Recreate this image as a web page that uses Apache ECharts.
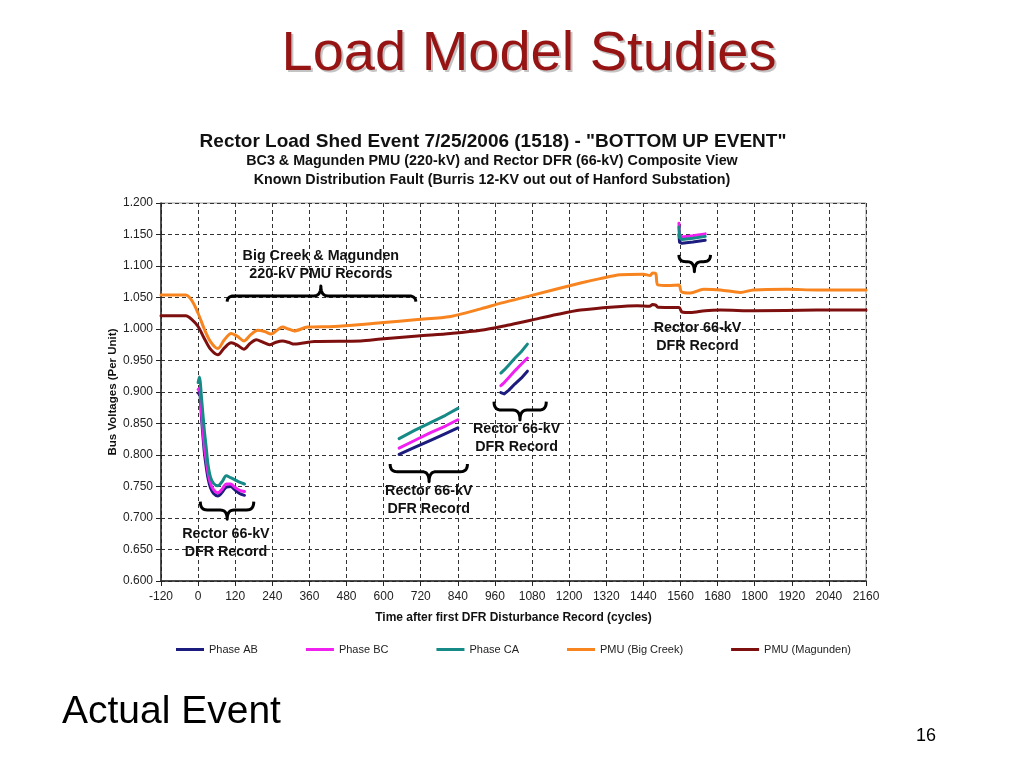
<!DOCTYPE html>
<html>
<head>
<meta charset="utf-8">
<script src="https://cdn.jsdelivr.net/npm/echarts@6/dist/echarts.min.js"></script>
<style>
html,body{margin:0;padding:0;background:#fff;}
#chart{width:1024px;height:768px;}
</style>
</head>
<body>
<div id="chart"></div>
<script>
// ---------- DATA ----------
const xTicks = [-120, 0, 120, 240, 360, 480, 600, 720, 840, 960, 1080, 1200, 1320, 1440, 1560, 1680, 1800, 1920, 2040, 2160];

// PMU Big Creek (orange)
const bigCreekT = [-120, -40, -20, 0, 20, 40, 64, 85, 107, 128, 148, 170, 193, 215, 236, 255, 273, 292, 311, 354, 440, 548, 591, 710, 817, 914, 979, 1076, 1237, 1300, 1366, 1440, 1462, 1470, 1480, 1487, 1520, 1555, 1563, 1592, 1635, 1689, 1754, 1796, 1905, 2000, 2160];
const bigCreekV = [1.054, 1.054, 1.045, 1.025, 1.000, 0.980, 0.969, 0.983, 0.993, 0.988, 0.981, 0.991, 0.998, 0.996, 0.992, 0.998, 1.003, 1.000, 0.997, 1.003, 1.004, 1.008, 1.010, 1.015, 1.020, 1.032, 1.041, 1.053, 1.073, 1.080, 1.086, 1.087, 1.085, 1.089, 1.088, 1.070, 1.069, 1.070, 1.059, 1.057, 1.063, 1.062, 1.058, 1.062, 1.063, 1.062, 1.062];

// PMU Magunden (dark red)
const magundenT = [-120, -40, -20, 0, 20, 40, 64, 85, 107, 128, 148, 168, 188, 210, 231, 252, 273, 292, 311, 376, 526, 591, 710, 817, 914, 1000, 1076, 1160, 1237, 1344, 1420, 1460, 1470, 1480, 1487, 1555, 1565, 1592, 1640, 1689, 1800, 2000, 2160];
const magundenV = [1.021, 1.021, 1.015, 1.004, 0.985, 0.968, 0.959, 0.970, 0.978, 0.974, 0.968, 0.977, 0.983, 0.979, 0.975, 0.979, 0.981, 0.979, 0.976, 0.980, 0.981, 0.984, 0.989, 0.993, 0.998, 1.006, 1.014, 1.023, 1.030, 1.035, 1.037, 1.036, 1.039, 1.038, 1.0345, 1.034, 1.027, 1.026, 1.029, 1.030, 1.029, 1.030, 1.030];

// Rector 66-kV DFR records (4 records)
const rec1T = [0, 4, 12, 20, 26, 32, 40, 50, 64, 78, 91, 105, 118, 134, 150];
const rec1AB = [0.898, 0.900, 0.852, 0.805, 0.782, 0.763, 0.748, 0.739, 0.735, 0.741, 0.749, 0.750, 0.745, 0.739, 0.736];
const rec1BC = [0.904, 0.906, 0.860, 0.815, 0.792, 0.772, 0.755, 0.745, 0.740, 0.746, 0.754, 0.754, 0.749, 0.744, 0.742];
const rec1CA = [0.915, 0.924, 0.885, 0.840, 0.813, 0.785, 0.765, 0.755, 0.751, 0.758, 0.767, 0.764, 0.761, 0.757, 0.754];

const rec2T = [650, 700, 750, 800, 840];
const rec2AB = [0.801, 0.812, 0.823, 0.834, 0.843];
const rec2BC = [0.811, 0.823, 0.835, 0.846, 0.856];
const rec2CA = [0.826, 0.839, 0.851, 0.863, 0.874];

const rec3T = [979, 990, 1005, 1025, 1045, 1065];
const rec3AB = [0.899, 0.897, 0.903, 0.913, 0.922, 0.933];
const rec3BC = [0.910, 0.915, 0.923, 0.934, 0.944, 0.954];
const rec3CA = [0.930, 0.935, 0.943, 0.954, 0.964, 0.976];

const rec4T = [1555, 1557, 1565, 1600, 1640];
const rec4AB = [1.150, 1.138, 1.136, 1.138, 1.141];
const rec4BC = [1.168, 1.150, 1.146, 1.148, 1.151];
const rec4CA = [1.162, 1.145, 1.142, 1.144, 1.147];

const seriesNames = ['Phase AB', 'Phase BC', 'Phase CA', 'PMU (Big Creek)', 'PMU (Magunden)'];

// ---------- BUILD ----------
const colors = {
  'Phase AB': '#1c1c7e',
  'Phase BC': '#f020f0',
  'Phase CA': '#168a86',
  'PMU (Big Creek)': '#f7841f',
  'PMU (Magunden)': '#7e0f0f'
};
function pairs(t, v) { return t.map((x, i) => [x, v[i]]); }
function lineSeries(name, data, w, smooth) {
  return {
    name: name, type: 'line', data: data, showSymbol: false, symbol: 'none',
    lineStyle: { color: colors[name], width: w, join: 'round', cap: 'round' }, itemStyle: { color: colors[name] },
    smooth: smooth, animation: false, emphasis: { disabled: true }
  };
}
const records = [
  [rec1T, rec1AB, rec1BC, rec1CA, 0.3],
  [rec2T, rec2AB, rec2BC, rec2CA, false],
  [rec3T, rec3AB, rec3BC, rec3CA, false],
  [rec4T, rec4AB, rec4BC, rec4CA, false]
];
const series = [];
records.forEach(r => {
  series.push(lineSeries('Phase AB', pairs(r[0], r[1]), 3, r[4]));
  series.push(lineSeries('Phase BC', pairs(r[0], r[2]), 3, r[4]));
  series.push(lineSeries('Phase CA', pairs(r[0], r[3]), 3, r[4]));
});
series.push(lineSeries('PMU (Big Creek)', pairs(bigCreekT, bigCreekV), 3, 0.3));
series.push(lineSeries('PMU (Magunden)', pairs(magundenT, magundenV), 3, 0.3));

const chart = echarts.init(document.getElementById('chart'), null, { renderer: 'canvas' });
const FONT = 'Liberation Sans, Arial, sans-serif';
const option = {
  backgroundColor: '#ffffff',
  animation: false,
  textStyle: { fontFamily: FONT },
  grid: { left: 161, right: 158, top: 203, bottom: 187, show: true, borderColor: '#9a9a9a', borderWidth: 1, containLabel: false },
  xAxis: {
    type: 'value', min: -120, max: 2160, interval: 120,
    name: 'Time after first DFR Disturbance Record (cycles)', nameLocation: 'middle', nameGap: 31,
    nameTextStyle: { fontFamily: FONT, fontWeight: 'bold', fontSize: 12, color: '#111' },
    axisLine: { onZero: false, lineStyle: { color: '#222', width: 1.5 } },
    axisTick: { show: true, length: 5, lineStyle: { color: '#222' } },
    axisLabel: { fontFamily: FONT, fontSize: 12, color: '#222', margin: 10, formatter: v => String(v), showMinLabel: true, showMaxLabel: true },
    splitLine: { show: true, lineStyle: { color: '#333', type: [4, 3], width: 1 } }
  },
  yAxis: {
    type: 'value', min: 0.6, max: 1.2, interval: 0.05,
    name: 'Bus Voltages (Per Unit)', nameLocation: 'middle', nameGap: 42, nameRotate: 90, nameMoveOverlap: false,
    nameTextStyle: { fontFamily: FONT, fontWeight: 'bold', fontSize: 11.5, color: '#111' },
    axisLine: { show: true, onZero: false, lineStyle: { color: '#222', width: 1.5 } },
    axisTick: { show: true, length: 5, lineStyle: { color: '#222' } },
    axisLabel: { fontFamily: FONT, fontSize: 12, color: '#222', margin: 8, formatter: v => v.toFixed(3) },
    splitLine: { show: true, lineStyle: { color: '#333', type: [4, 3], width: 1 } }
  },
  legend: {
    data: seriesNames, left: 171, top: 639, itemGap: 48, itemWidth: 28, itemHeight: 3, icon: 'rect',
    textStyle: { fontFamily: FONT, fontSize: 11, color: '#222' }, selectedMode: false
  },
  series: series
};
chart.setOption(option);

// ---------- ANNOTATIONS (positioned in data coordinates) ----------
const px = (c, v) => chart.convertToPixel({ xAxisIndex: 0, yAxisIndex: 0 }, [c, v]);
// brace: x1, x2 (cycles), yEnd, yBar, tipX, yTip (volts)
const braces = [
  [94, 704, 1.0433, 1.0524, 397, 1.0683],
  [7, 180, 0.726, 0.7127, 94, 0.698],
  [621, 871, 0.7857, 0.7735, 747, 0.7576],
  [957, 1126, 0.8846, 0.8714, 1041, 0.8556],
  [1555, 1657, 1.1175, 1.1068, 1605, 1.0910]
];
const labels = [
  ['Big Creek & Magunden\n220-kV PMU Records', 397, 1.1008],
  ['Rector 66-kV\nDFR Record', 90, 0.6603],
  ['Rector 66-kV\nDFR Record', 746, 0.7286],
  ['Rector 66-kV\nDFR Record', 1030, 0.827],
  ['Rector 66-kV\nDFR Record', 1615, 0.9873]
];
function quad(p0, p1, p2, out) {
  for (let i = 1; i <= 8; i++) {
    const t = i / 8, a = (1 - t) * (1 - t), b = 2 * (1 - t) * t, c = t * t;
    out.push([a * p0[0] + b * p1[0] + c * p2[0], a * p0[1] + b * p1[1] + c * p2[1]]);
  }
}
const graphics = [];
braces.forEach(b => {
  const a = px(b[0], b[2]), c = px(b[0], b[3]), d = px(b[1], b[2]), t = px(b[4], b[5]);
  const x1 = a[0], x2 = d[0], yE = a[1], yB = c[1], tx = t[0], ty = t[1];
  const r = 7;
  const pts = [[x1, yE]];
  quad([x1, yE], [x1, yB], [x1 + r, yB], pts);
  pts.push([tx - r, yB]);
  quad([tx - r, yB], [tx, yB], [tx, ty], pts);
  quad([tx, ty], [tx, yB], [tx + r, yB], pts);
  pts.push([x2 - r, yB]);
  quad([x2 - r, yB], [x2, yB], [x2, yE], pts);
  graphics.push({ type: 'polyline', shape: { points: pts }, style: { fill: null, stroke: '#000', lineWidth: 3, lineJoin: 'round' }, z: 100 });
});
labels.forEach(l => {
  const p = px(l[1], l[2]);
  graphics.push({ type: 'text', x: p[0], y: p[1], z: 100,
    style: { text: l[0], fill: '#111', font: 'bold 14.3px ' + FONT, textAlign: 'center', textVerticalAlign: 'middle', lineHeight: 18 } });
});
// Titles and slide text
graphics.push({ type: 'text', x: 531, y: 57, z: 90,
  style: { text: 'Load Model Studies', fill: '#c4c4c4', font: '56px ' + FONT, textAlign: 'center', textVerticalAlign: 'middle' } });
graphics.push({ type: 'text', x: 529, y: 55, z: 91,
  style: { text: 'Load Model Studies', fill: '#961414', font: '56px ' + FONT, textAlign: 'center', textVerticalAlign: 'middle' } });
graphics.push({ type: 'text', x: 493, y: 142, style: { text: 'Rector Load Shed Event 7/25/2006 (1518) - "BOTTOM UP EVENT"', fill: '#111', font: 'bold 19px ' + FONT, textAlign: 'center', textVerticalAlign: 'middle' } });
graphics.push({ type: 'text', x: 492, y: 161, style: { text: 'BC3 & Magunden PMU (220-kV) and Rector DFR (66-kV) Composite View', fill: '#111', font: 'bold 14.3px ' + FONT, textAlign: 'center', textVerticalAlign: 'middle' } });
graphics.push({ type: 'text', x: 492, y: 180, style: { text: 'Known Distribution Fault (Burris 12-KV out out of Hanford Substation)', fill: '#111', font: 'bold 14.3px ' + FONT, textAlign: 'center', textVerticalAlign: 'middle' } });
graphics.push({ type: 'text', x: 62, y: 712, style: { text: 'Actual Event', fill: '#000', font: '39px ' + FONT, textAlign: 'left', textVerticalAlign: 'middle' } });
graphics.push({ type: 'text', x: 926, y: 736, style: { text: '16', fill: '#000', font: '18px ' + FONT, textAlign: 'center', textVerticalAlign: 'middle' } });
chart.setOption({ graphic: graphics });
</script>
</body>
</html>
